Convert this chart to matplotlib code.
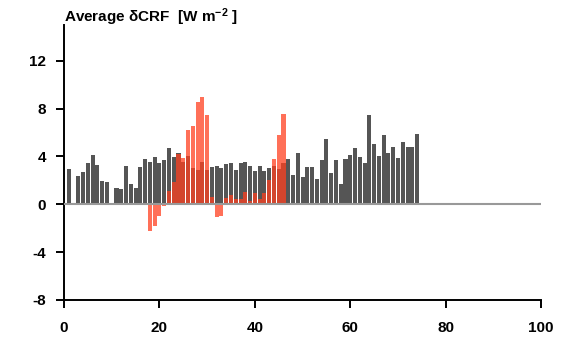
import matplotlib
matplotlib.use("Agg")
import matplotlib.pyplot as plt

plt.rcParams['font.family'] = ['Liberation Sans', 'DejaVu Sans']
plt.rcParams['mathtext.fontset'] = 'custom'
plt.rcParams['mathtext.bf'] = 'Liberation Sans:bold'
plt.rcParams['mathtext.rm'] = 'Liberation Sans:bold'
plt.rcParams['mathtext.default'] = 'bf'
plt.rcParams['axes.unicode_minus'] = False

# gray series, x = 1..74
gray_x = list(range(1, 75))
gray_vals = [2.93, 0.0, 2.35, 2.68, 3.44, 4.10, 3.27, 1.93, 1.84, 0.08,
             1.34, 1.26, 3.18, 1.68, 1.34, 3.10, 3.77, 3.52, 3.94, 3.44,
             3.69, 4.69, 3.94, 4.27, 3.52, 4.02, 3.02, 2.85, 3.52, 2.85,
             3.10, 3.18, 3.02, 3.35, 3.44, 2.85, 3.44, 3.52, 3.18, 2.77,
             3.18, 2.77, 3.02, 3.18, 2.93, 3.44, 3.77, 2.43, 4.27, 2.26,
             3.10, 3.10, 2.09, 3.69, 5.45, 2.60, 3.69, 1.68, 3.77, 4.10,
             4.69, 3.94, 3.44, 7.46, 5.03, 4.02, 5.78, 4.27, 4.78, 3.85,
             5.20, 4.78, 4.78, 5.87]

# red series, x = 18..46
red_x = list(range(18, 47))
red_vals = [-2.26, -1.84, -1.00, -0.17, 1.09, 1.84, 4.19, 3.85, 6.20, 6.54,
            8.55, 8.97, 7.46, 0.59, -1.09, -1.00, 0.50, 0.75, 0.42, 0.42,
            1.00, 0.25, 0.92, 0.42, 0.92, 2.01, 3.77, 5.78, 7.54]

x_ticks = [0, 20, 40, 60, 80, 100]
y_ticks = [-8, -4, 0, 4, 8, 12]

fig = plt.figure(figsize=(5.69, 3.42), dpi=100)
ax = fig.add_axes([0.1125, 0.123, 0.8385, 0.804])

ax.bar(gray_x, gray_vals, width=0.85, color='#555555', zorder=2)
ax.bar(red_x, red_vals, width=0.85, color='#ff4020', alpha=0.75, zorder=3)
ax.axhline(0, color='#999999', lw=1.5, zorder=4)

ax.set_xlim(0, 100)
ax.set_ylim(-8, 15)
ax.set_xticks(x_ticks)
ax.set_yticks(y_ticks)

for s in ['top', 'right']:
    ax.spines[s].set_visible(False)
for s in ['left', 'bottom']:
    ax.spines[s].set_linewidth(1.4)

ax.tick_params(axis='both', direction='out', length=6, width=1.4, labelsize=11)
ax.tick_params(axis='x', pad=9)
ax.tick_params(axis='y', pad=7)
for lab in ax.get_xticklabels() + ax.get_yticklabels():
    lab.set_fontweight('bold')

fig.text(64 / 569, 1 - 22 / 342, r'Average $\delta$CRF  [W m$^{-2}$ ]',
         fontsize=11, fontweight='bold', ha='left', va='baseline')

fig.savefig('out.png', dpi=100)
